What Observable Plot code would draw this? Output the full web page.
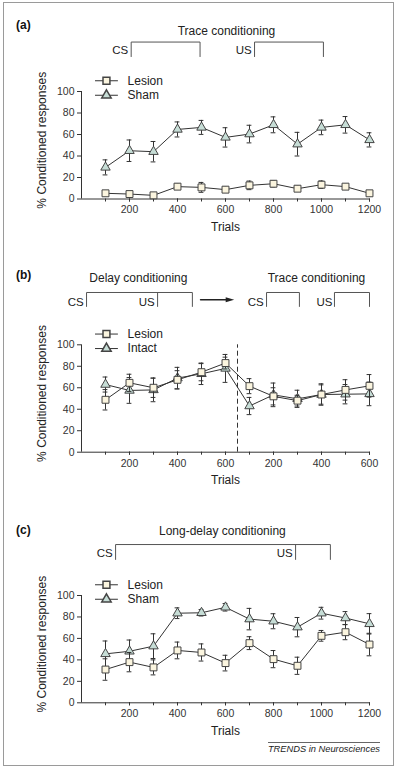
<!DOCTYPE html>
<html><head><meta charset="utf-8">
<script src="https://cdn.jsdelivr.net/npm/d3@7"></script>
<script src="https://cdn.jsdelivr.net/npm/@observablehq/plot@0.6"></script>
<style>
body{margin:0;background:#fff;font-family:"Liberation Sans",Arial,sans-serif;}
#wrap{position:relative;width:400px;height:770px;overflow:hidden;background:#fff;}
#border{position:absolute;left:3px;top:2px;width:391px;height:764px;border:1px solid #9a9a9a;box-sizing:border-box;}
.panel{position:absolute;left:0;}
.plab{position:absolute;left:16px;font-weight:bold;font-size:12px;line-height:14px;color:#111;}
#capline{position:absolute;left:268px;width:112px;top:742px;border-top:1px solid #666;}
#caption{position:absolute;right:20px;top:744px;font-size:9.3px;font-style:italic;color:#222;white-space:nowrap;line-height:11px;}
</style>
</head><body>
<div id="wrap"><div id="border"></div></div>
<script>
// ---------- data ----------
const trials = [100,200,300,400,500,600,700,800,900,1000,1100,1200];
const yTicks = [0,20,40,60,80,100];
const xLabelTicks = [200,400,600,800,1000,1200];
const xTickLabelsAC = ["200","400","600","800","1000","1200"];
const xTickLabelsB = ["200","400","600","200","400","600"];

// (a) trace conditioning
const aLesion    = [5.3,4.6,3.4,11.5,10.8,8.7,12.7,14.2,9.6,13.3,11.5,5.3];
const aLesionErr = [2,2,1.5,2.5,4.6,2.5,4,3,2.5,3.5,2,2];
const aSham      = [29.4,44.9,44,64.7,66.6,57.3,60.4,69,51,66.6,69,55];
const aShamErr   = [7,10,9.5,7,6.5,9,8.2,7.4,11,6.8,7.7,6.6];

// (b) delay -> trace conditioning
const bLesion    = [48.8,64.6,60,67.4,74.5,83,61.5,52,48,53.7,58,61.8];
const bLesionErr = [9.5,8,9,8.5,8,5.5,7,8,5,9,9.5,10.5];
const bIntact    = [63,57.5,58,69,73,78,43,53.4,49.7,53.7,54,54.3];
const bIntactErr = [7,12,11,10,10,13,8,11,8,10,9,11];

// (c) long-delay conditioning
const cLesion    = [31,37.9,33,48.8,46.9,37,55.6,40.7,34.5,62.4,65.8,54.3];
const cLesionErr = [10,9,7,7.8,8,7.3,6,8,8,5,7,10.5];
const cSham      = [45.6,48,52.8,83.5,83.9,89,78,76,70.5,83.5,79,73.6];
const cShamErr   = [12,10.5,11.5,5,3,3.5,10,7,9,5.5,6,9.5];

// CS / US schematic (in trial units)
const aTitle = "Trace conditioning";
const aCS = [207,494], aUS = [721,1008];
const bTitles = ["Delay conditioning","Trace conditioning"];
const bCS1 = [21,462], bUS1 = 317, bArrow = [496,629], bCS2 = [771,908], bUS2 = [1054,1200];
const bSwitch = 650;
const cTitle = "Long-delay conditioning";
const cCS = [142,1037], cUS = 892;

const yLabel = "% Conditioned responses";
const xLabel = "Trials";

// ---------- styles ----------
const FONT = '"Liberation Sans", Arial, sans-serif';
const INK = "#333";
const lesionFill = "#fbf5df";
const shamFill = "#c6ddd6";

function rows(means, errs){ return trials.map((t,i)=>({t, y:means[i], e:errs[i]})); }

function series(data, symbol, r, fill){
  return [
    Plot.ruleX(data,{x:"t", y1:d=>d.y-d.e, y2:d=>d.y+d.e, stroke:INK, strokeWidth:1}),
    Plot.ruleY(data,{y:d=>d.y+d.e, x1:d=>d.t-10, x2:d=>d.t+10, stroke:INK, strokeWidth:1}),
    Plot.ruleY(data,{y:d=>d.y-d.e, x1:d=>d.t-10, x2:d=>d.t+10, stroke:INK, strokeWidth:1}),
    Plot.line(data,{x:"t", y:"y", stroke:INK, strokeWidth:1}),
    Plot.dot(data,{x:"t", y:"y", symbol, r, fill, stroke:"#444", strokeWidth:1})
  ];
}

function bracket(x1,x2,yt,yb){
  return Plot.line([{x:x1,y:yb},{x:x1,y:yt},{x:x2,y:yt},{x:x2,y:yb}],{x:"x",y:"y",stroke:"#555",strokeWidth:1});
}
function vtick(x,yt,yb){
  return Plot.line([{x,y:yb},{x,y:yt}],{x:"x",y:"y",stroke:"#555",strokeWidth:1});
}
function label(x,y,text,anchor="middle",size=12){
  return Plot.text([{x,y}],{x:"x",y:"y",text:()=>text,textAnchor:anchor,fontSize:size,fill:"#222"});
}
function legend(names){
  const L=[];
  const ys=[110,96.5];
  const syms=[["square",3.9,lesionFill],["triangle",3.5,shamFill]];
  names.forEach((n,i)=>{
    L.push(Plot.line([{x:58,y:ys[i]},{x:150,y:ys[i]}],{x:"x",y:"y",stroke:INK,strokeWidth:1}));
    L.push(Plot.dot([{x:104,y:ys[i]}],{x:"x",y:"y",symbol:syms[i][0],r:syms[i][1],fill:syms[i][2],stroke:"#444"}));
    L.push(Plot.text([{x:192,y:ys[i]}],{x:"x",y:"y",text:()=>n,textAnchor:"start",fontSize:12,fill:"#222"}));
  });
  return L;
}

const arrowHead = {draw(ctx,size){ const s=Math.sqrt(size); ctx.moveTo(s*0.9,0); ctx.lineTo(-s*0.6,-s*0.45); ctx.lineTo(-s*0.6,s*0.45); ctx.closePath(); }};

function makePanel({top, height, marginTop, marginBottom, tickLabels, marks}){
  const chart = Plot.plot({
    width:400, height, marginTop, marginBottom, marginLeft:81, marginRight:31,
    style:{fontFamily:FONT, color:INK, background:"transparent", overflow:"visible"},
    x:{domain:[0,1200]},
    y:{domain:[0,100]},
    marks:[
      Plot.axisY({ticks:yTicks, tickSize:4, tickPadding:3, fontSize:10.5, label:null, stroke:INK}),
      Plot.axisX({ticks:trials, tickSize:3, tickFormat:()=>"", label:null, stroke:INK}),
      Plot.axisX({ticks:xLabelTicks, tickSize:3, tickPadding:4, fontSize:10.5, tickFormat:(d)=>tickLabels[xLabelTicks.indexOf(d)], label:null, stroke:INK}),
      Plot.text([yLabel],{frameAnchor:"left", textAnchor:"middle", rotate:-90, dx:-39, dy:-5, fontSize:12, fill:"#222"}),
      Plot.text([xLabel],{frameAnchor:"bottom", dy:32, fontSize:12, fill:"#222"}),
      Plot.ruleY([0],{stroke:INK}),
      Plot.ruleX([0],{stroke:INK}),
      ...marks
    ]
  });
  chart.classList.add("panel");
  chart.style.top = top+"px";
  document.getElementById("wrap").appendChild(chart);
}

// Panel (a)
makePanel({top:0, height:253, marginTop:91, marginBottom:54.5, tickLabels:xTickLabelsAC, marks:[
  label(604,156.5,aTitle),
  bracket(aCS[0],aCS[1],146,132.5), label(aCS[0]-12,138.5,"CS","end",11.5),
  bracket(aUS[0],aUS[1],146,132.5), label(aUS[0]-12,138.5,"US","end",11.5),
  ...legend(["Lesion","Sham"]),
  ...series(rows(aSham,aShamErr),"triangle",3.5,shamFill),
  ...series(rows(aLesion,aLesionErr),"square",3.9,lesionFill)
]});

// Panel (b)
makePanel({top:253, height:251, marginTop:91.3, marginBottom:52.3, tickLabels:xTickLabelsB, marks:[
  label(237,161.7,bTitles[0]), label(979,161.7,bTitles[1]),
  bracket(bCS1[0],bCS1[1],148.7,135.7), label(bCS1[0]-12,139.4,"CS","end",11.5),
  vtick(bUS1,148.7,135.7), label(bUS1-12,139.4,"US","end",11.5),
  Plot.line([{x:bArrow[0],y:142},{x:bArrow[1]-20,y:142}],{x:"x",y:"y",stroke:"#222"}),
  Plot.dot([{x:bArrow[1]-14,y:142}],{x:"x",y:"y",symbol:arrowHead,r:3.2,fill:"#222",stroke:"none"}),
  bracket(bCS2[0],bCS2[1],148.7,135.7), label(bCS2[0]-12,139.4,"CS","end",11.5),
  bracket(bUS2[0],bUS2[1],148.7,135.7), label(bUS2[0]-8,139.4,"US","end",11.5),
  Plot.ruleX([bSwitch],{y1:0,y2:100,stroke:"#333",strokeDasharray:"5,3"}),
  ...legend(["Lesion","Intact"]),
  ...series(rows(bIntact,bIntactErr),"triangle",3.5,shamFill),
  ...series(rows(bLesion,bLesionErr),"square",3.9,lesionFill)
]});

// Panel (c)
makePanel({top:504, height:266, marginTop:91, marginBottom:67.7, tickLabels:xTickLabelsAC, marks:[
  label(587,159.6,cTitle),
  bracket(cCS[0],cCS[1],147.5,133.6), label(cCS[0]-12,139,"CS","end",11.5),
  vtick(cUS,147.5,133.6), label(cUS-12,139,"US","end",11.5),
  ...legend(["Lesion","Sham"]),
  ...series(rows(cSham,cShamErr),"triangle",3.5,shamFill),
  ...series(rows(cLesion,cLesionErr),"square",3.9,lesionFill)
]});

// panel letters and caption
const wrap = document.getElementById("wrap");
[["(a)",18],["(b)",268],["(c)",523]].forEach(([t,y])=>{
  const d=document.createElement("div"); d.className="plab"; d.textContent=t; d.style.top=y+"px"; wrap.appendChild(d);
});
const line=document.createElement("div"); line.id="capline"; wrap.appendChild(line);
const cap=document.createElement("div"); cap.id="caption"; cap.textContent="TRENDS in Neurosciences"; wrap.appendChild(cap);
</script>
</body></html>
